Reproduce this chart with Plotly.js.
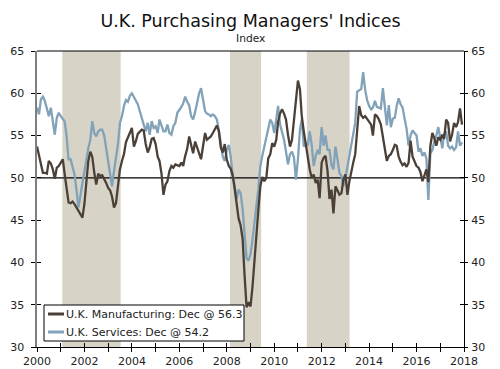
<!DOCTYPE html>
<html>
<head>
<meta charset="utf-8">
<script src="https://cdn.plot.ly/plotly-3.0.1.min.js"></script>
<style>html,body{margin:0;padding:0;background:#fff;}#chart{width:500px;height:369px;}</style>
</head>
<body>
<div id="chart"></div>
<script>
// Monthly data, Jan 2000 .. Dec 2017
const startYear = 2000;
const manufacturing = [
  53.7, 52.6, 51.8, 50.6, 50.6, 50.5, 52.0, 51.7, 51.0, 49.9, 51.2, 51.4,
  51.8, 52.2, 50.5, 48.5, 47.1, 47.0, 47.2, 46.9, 46.5, 46.1, 45.6, 45.3,
  47.0, 49.8, 52.0, 53.1, 52.5, 50.6, 49.2, 50.5, 50.2, 50.3, 49.9, 49.4,
  48.8, 48.5, 47.8, 46.5, 47.0, 49.0, 51.0, 52.0, 52.8, 54.2, 54.8, 55.5,
  55.9, 53.7, 54.3, 55.2, 55.5, 55.7, 55.6, 54.0, 53.0, 53.6, 54.6, 54.7,
  54.0, 52.5, 52.0, 50.5, 48.0, 49.2, 49.6, 50.8, 51.4, 51.2, 51.6, 51.5,
  51.4, 51.8, 51.4, 52.6, 53.4, 54.9, 53.9, 52.9, 54.3, 53.7, 52.9, 52.2,
  53.9, 55.3, 54.5, 54.7, 54.9, 55.3, 55.7, 56.2, 55.5, 53.6, 53.0, 54.0,
  52.2, 51.4, 51.1, 50.3, 48.8, 46.8, 45.2, 44.4, 42.8, 38.5, 34.7, 35.3,
  34.8, 37.2, 40.2, 43.8, 46.2, 49.0, 50.1, 49.6, 50.0, 52.3, 52.8, 54.1,
  53.7, 54.5, 56.6, 57.6, 58.1, 57.6, 56.9, 55.1, 53.7, 54.5, 57.0, 58.9,
  61.5, 60.5, 57.3, 55.5, 53.9, 52.7, 51.0, 50.0, 50.4, 49.4, 49.8, 47.6,
  51.8, 52.4, 52.6, 50.8, 47.5, 48.6, 45.8, 49.0, 48.4, 48.0, 48.2, 49.8,
  50.4, 48.0, 49.5, 50.8, 51.8, 52.8, 55.3, 58.5, 57.4, 57.1, 57.3, 57.0,
  56.7, 56.3, 55.0, 57.5, 57.3, 56.9, 56.3, 54.7, 53.3, 52.0, 52.6, 52.8,
  53.3, 53.9, 53.8, 52.5, 51.9, 51.5, 51.7, 51.3, 51.8, 54.4, 52.5, 52.0,
  51.4, 51.2, 50.7, 49.6, 50.2, 51.0, 49.5, 53.8, 55.3, 54.7, 53.8, 54.8,
  54.5, 55.1, 54.6, 56.9, 56.5, 54.3, 55.1, 56.5, 56.0, 56.6, 58.2, 56.3
];
const services = [
  58.3, 57.5, 59.3, 59.6, 59.1, 58.1, 57.3, 58.3, 56.5, 55.1, 57.1, 57.7,
  57.3, 56.9, 56.7, 54.9, 52.2, 52.2, 51.2, 50.4, 48.5, 46.5, 48.0, 49.5,
  50.6, 52.2, 53.5, 54.5, 56.7, 55.3, 54.9, 55.5, 55.7, 55.7, 55.0, 53.5,
  52.0, 50.5, 49.0, 50.8, 52.4, 54.0, 56.5, 57.3, 58.5, 59.2, 59.0, 59.7,
  60.0, 59.6, 59.1, 58.7, 57.9, 57.1, 56.5, 55.5, 56.5, 55.1, 56.7, 55.9,
  56.1, 55.3, 56.9, 56.3, 55.5, 55.5, 56.3, 55.3, 55.1, 56.1, 56.5, 57.7,
  58.0, 58.4, 58.8, 59.6, 59.0, 58.6, 57.3, 56.9, 57.8, 58.8, 60.0, 60.6,
  59.2, 57.9, 57.6, 57.5, 57.3, 57.5, 57.3, 56.9, 55.7, 54.3, 52.5, 52.0,
  53.3, 53.9, 52.5, 50.4, 49.0, 47.5, 48.6, 48.2, 46.3, 43.5, 40.5, 40.2,
  41.0, 42.7, 44.3, 46.7, 48.6, 51.4, 52.6, 53.7, 54.9, 56.1, 56.9, 56.5,
  55.3, 56.9, 58.5, 56.3, 55.5, 54.5, 53.1, 51.6, 52.8, 53.1, 52.4, 49.8,
  52.2, 55.7, 56.9, 53.7, 54.1, 53.8, 55.5, 53.9, 51.4, 52.6, 53.3, 52.8,
  56.0, 53.8, 55.0, 53.3, 53.3, 51.5, 51.0, 53.7, 52.2, 50.6, 50.2, 49.0,
  50.0, 51.4, 52.2, 53.9, 55.0, 56.5, 60.2, 60.4, 60.5, 62.5, 60.4, 59.2,
  58.5, 58.1, 58.3, 59.1, 58.4, 58.3, 58.2, 60.6, 58.7, 56.2, 58.6, 56.0,
  57.0, 57.1, 58.5, 59.4, 58.7, 58.3, 57.0, 55.8, 53.8, 55.0, 55.6, 55.3,
  55.0, 53.1, 53.5, 52.6, 53.0, 52.3, 47.4, 52.9, 53.3, 54.3, 55.0, 56.0,
  54.6, 53.5, 55.2, 55.5, 53.8, 53.5, 53.7, 53.3, 53.6, 55.5, 53.8, 54.2
];
const seriesNames = ['U.K. Manufacturing: Dec @ 56.3', 'U.K. Services: Dec @ 54.2'];
const shadeStarts = ['2001-01-25', '2008-02-20', '2011-05-18'];
const shadeEnds   = ['2003-07-12', '2009-06-13', '2013-03-06'];
const yTicks = [30, 35, 40, 45, 50, 55, 60, 65];

const dates = manufacturing.map((_, i) => {
  const y = startYear + Math.floor(i / 12);
  const m = (i % 12) + 1;
  return y + '-' + (m < 10 ? '0' + m : m) + '-01';
});

const cManu = '#4b4037';
const cServ = '#81a2b8';
const cShade = '#d7d3c7';
const FONT = 'DejaVu Sans, Verdana, sans-serif';

const traces = [
  {x: dates, y: services, type: 'scatter', mode: 'lines', name: seriesNames[1],
   line: {color: cServ, width: 2.3}, showlegend: false, hoverinfo: 'skip'},
  {x: dates, y: manufacturing, type: 'scatter', mode: 'lines', name: seriesNames[0],
   line: {color: cManu, width: 2.3}, showlegend: false, hoverinfo: 'skip'}
];

// pixel helpers for paper coords of plot area (l=37, r=464, t=51, b=347)
const PL = 37, PR = 464, PT = 51, PB = 347;
const px = v => (v - PL) / (PR - PL);
const py = v => (PB - v) / (PB - PT);

const shapes = [];
shadeStarts.forEach((s, i) => {
  shapes.push({type: 'rect', xref: 'x', yref: 'paper', x0: s, x1: shadeEnds[i], y0: 0, y1: 1,
               fillcolor: cShade, line: {width: 0}, layer: 'below'});
});
shapes.push({type: 'line', xref: 'paper', yref: 'y', x0: 0, x1: 1, y0: 50, y1: 50,
             line: {color: '#000', width: 1.2}, layer: 'below'});
shapes.push({type: 'line', xref: 'paper', yref: 'paper', x0: 0, x1: 1, y0: 1, y1: 1,
             line: {color: '#000', width: 1.2}});
// legend box
shapes.push({type: 'rect', xref: 'paper', yref: 'paper', x0: px(44), x1: px(244), y0: py(341), y1: py(305),
             fillcolor: '#fff', line: {color: '#000', width: 1}});
shapes.push({type: 'line', xref: 'paper', yref: 'paper', x0: px(48), x1: px(64), y0: py(314), y1: py(314),
             line: {color: cManu, width: 3}});
shapes.push({type: 'line', xref: 'paper', yref: 'paper', x0: px(48), x1: px(64), y0: py(332), y1: py(332),
             line: {color: cServ, width: 3}});

const annotations = [
  {text: 'Index', xref: 'paper', yref: 'paper', x: 0.5, y: py(38), xanchor: 'center', yanchor: 'middle',
   showarrow: false, font: {family: FONT, size: 10.7, color: '#222'}},
  {text: seriesNames[0], xref: 'paper', yref: 'paper', x: px(64), y: py(314), xanchor: 'left', yanchor: 'middle',
   showarrow: false, font: {family: FONT, size: 11, color: '#222'}},
  {text: seriesNames[1], xref: 'paper', yref: 'paper', x: px(64), y: py(332), xanchor: 'left', yanchor: 'middle',
   showarrow: false, font: {family: FONT, size: 11, color: '#222'}}
];

const xRange = ['2000-01-01', '2018-01-01'];
const yBase = {range: [30, 65], tickvals: yTicks, showgrid: false, zeroline: false, fixedrange: true};

const layout = {
  width: 500, height: 369,
  margin: {l: PL, r: 500 - PR, t: PT, b: 369 - PB, pad: 0},
  paper_bgcolor: '#fff', plot_bgcolor: '#fff',
  font: {family: FONT, size: 11, color: '#222'},
  showlegend: false,
  title: {text: "U.K. Purchasing Managers' Indices", font: {family: FONT, size: 17.5, color: '#111'},
          x: 0.5, xref: 'paper', xanchor: 'center', y: 1 - 21 / 369, yref: 'container', yanchor: 'middle'},
  xaxis: {type: 'date', range: xRange, tick0: '2000-01-01', dtick: 'M24', tickformat: '%Y',
          showline: true, linecolor: '#000', linewidth: 1, ticks: 'outside', ticklen: 4, tickcolor: '#000',
          minor: {dtick: 'M12', ticks: 'outside', ticklen: 4, tickcolor: '#000'},
          showgrid: false, zeroline: false, fixedrange: true, anchor: 'y'},
  xaxis2: {type: 'date', range: xRange, overlaying: 'x', anchor: 'y', side: 'bottom', tick0: '2000-01-01',
           dtick: 'M12', ticks: 'inside', ticklen: 4, tickcolor: '#000', showticklabels: false,
           showline: false, showgrid: false, zeroline: false, fixedrange: true},
  yaxis: Object.assign({}, yBase, {side: 'left', showline: true, linecolor: '#7f7f7f', linewidth: 2.5,
          ticks: 'outside', ticklen: 4, tickcolor: '#000', ticklabelstandoff: 4, anchor: 'x'}),
  yaxis2: Object.assign({}, yBase, {side: 'right', overlaying: 'y', anchor: 'x', showline: true, linecolor: '#000',
          linewidth: 1, ticks: 'outside', ticklen: 3, tickcolor: '#000', ticklabelstandoff: 1}),
  yaxis3: Object.assign({}, yBase, {side: 'left', overlaying: 'y', anchor: 'x', showline: false,
          ticks: 'inside', ticklen: 4, tickcolor: '#000', showticklabels: false}),
  yaxis4: Object.assign({}, yBase, {side: 'right', overlaying: 'y', anchor: 'x', showline: false,
          ticks: 'inside', ticklen: 4, tickcolor: '#000', showticklabels: false}),
  shapes: shapes,
  annotations: annotations
};

// invisible helper traces so the overlay tick axes are drawn
traces.push({x: [xRange[0]], y: [30], xaxis: 'x2', yaxis: 'y3', mode: 'markers', marker: {opacity: 0}, showlegend: false, hoverinfo: 'skip'});
traces.push({x: [xRange[0]], y: [30], xaxis: 'x', yaxis: 'y2', mode: 'markers', marker: {opacity: 0}, showlegend: false, hoverinfo: 'skip'});
traces.push({x: [xRange[0]], y: [30], xaxis: 'x', yaxis: 'y4', mode: 'markers', marker: {opacity: 0}, showlegend: false, hoverinfo: 'skip'});

Plotly.newPlot('chart', traces, layout, {staticPlot: true, displayModeBar: false});
</script>
</body>
</html>
